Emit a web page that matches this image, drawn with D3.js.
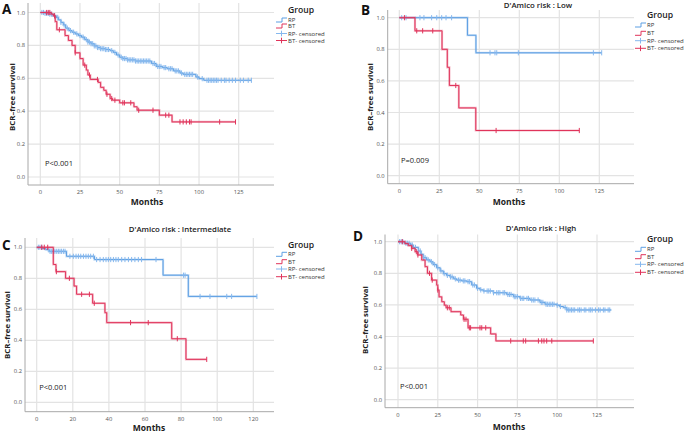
<!DOCTYPE html>
<html><head><meta charset="utf-8">
<script src="https://cdn.jsdelivr.net/npm/d3@7"></script>
<style>body{margin:0;background:#fff}svg{display:block}text{font-family:"Open Sans",sans-serif}</style>
</head><body><svg id="c" width="685" height="432"></svg>
<script>
// ---------------- DATA ----------------
const groups = ["RP", "BT"];
const legendLabels = ["RP", "BT", "RP- censored", "BT- censored"];
const yTicks = [0.0, 0.2, 0.4, 0.6, 0.8, 1.0];
const xTicksA = [0, 25, 50, 75, 100, 125];
const xTicksB = [0, 25, 50, 75, 100, 125];
const xTicksC = [0, 20, 40, 60, 80, 100, 120];
const xTicksD = [0, 25, 50, 75, 100, 125];
const titles = ["", "D'Amico risk : Low", "D'Amico risk : Intermediate", "D'Amico risk : High"];
const panelLetters = ["A", "B", "C", "D"];
const pValues = ["P<0.001", "P=0.009", "P<0.001", "P<0.001"];

// Step curves: [month, survival after step]; endpoints = last follow-up month
const stepsA_RP = [[0,1],[3,0.995],[6,0.99],[8,0.98],[10,0.97],[11.5,0.955],[13,0.94],[14.5,0.925],[16,0.905],[18,0.89],[20,0.88],[22,0.87],[24,0.86],[26,0.85],[28,0.835],[30,0.82],[32,0.81],[34,0.797],[36,0.787],[38,0.78],[41,0.775],[44,0.768],[46,0.757],[48,0.742],[50,0.728],[52,0.72],[55,0.712],[60,0.705],[70,0.69],[73,0.672],[77,0.665],[80,0.658],[84,0.645],[88,0.632],[90,0.624],[98,0.608],[100,0.598],[103,0.588]];
const endA_RP = 133;
const censA_RP = [1,2,3,4,5,6,7,9,11,13,15,17,19,21,23,25,27,29,30,31,32,33,34,35,36,37,38,39,40,41,42,43,45,47,49,51,52,53,54,55,56,57,58,59,60,61,62,63,64,65,66,67,68,69,71,72,74,75,76,78,79,81,82,83,85,86,87,89,91,92,93,94,95,96,99,102,105,106,107,108,109,110,111,112,114,116,117,119,121,123,126,128,131,133];
const stepsA_BT = [[0,1],[7,0.99],[8.3,0.98],[9.4,0.945],[10.4,0.895],[15.6,0.86],[17.7,0.83],[20,0.8],[22,0.755],[25,0.72],[27,0.68],[29,0.65],[30,0.62],[31.5,0.593],[36.5,0.575],[38,0.545],[40,0.527],[41.5,0.503],[44,0.477],[45.5,0.467],[50,0.451],[59,0.427],[61,0.406],[75,0.376],[83,0.335]];
const endA_BT = 123;
const censA_BT = [4,5,6,9,12,22,28,31,36,42,45,47,52,53,57,62,71,79,81,88,90,92,94,95,113,123];

const stepsB_RP = [[0,1],[42.6,0.889],[47.9,0.778]];
const endB_RP = 126.5;
const censB_RP = [1.5,4.2,12.9,15.4,20.2,23.4,26.5,29.2,32.7,56.7,59.8,60.9,74.4,121.3,126.5];
const stepsB_BT = [[0,1],[9.8,0.917],[26.7,0.8],[30,0.686],[31.3,0.571],[37.2,0.429],[47.8,0.286]];
const endB_BT = 112.5;
const censB_BT = [3.2,10.9,14.6,20.9,35.3,60.5,112.5];

const stepsC_RP = [[0,1],[3,0.992],[5,0.985],[7,0.974],[16.5,0.942],[32,0.921],[70,0.82],[84,0.683]];
const endC_RP = 122;
const censC_RP = [0.9,1.8,2.8,6.4,7.4,8.3,9.2,10.1,11.1,12,12.9,13.8,14.8,15.7,18.4,20.3,21.8,23.1,24.4,25.9,27.3,28.6,29.9,31.4,33.2,35.1,36.9,38.4,39.7,41,42.5,43.9,45.2,47.1,48.9,50.8,52.6,54.4,56.3,58.1,66.1,81.3,82.2,90.5,96,105.3,108,122];
const stepsC_BT = [[0,1],[9.2,0.889],[10.7,0.843],[16,0.8],[20.7,0.75],[22.1,0.697],[31,0.639],[37.8,0.578],[38.8,0.514],[74.8,0.41],[82.7,0.277]];
const endC_BT = 94.2;
const censC_BT = [2.8,4.2,6.1,10.9,18.1,24.9,29.2,31.9,52,61.8,77.9,94.2];

const stepsD_RP = [[0,1],[4,0.99],[8,0.979],[9.6,0.964],[12.8,0.941],[14.5,0.92],[15.9,0.899],[18,0.885],[20.1,0.873],[22,0.855],[24.3,0.835],[26.5,0.815],[28.5,0.798],[30.5,0.787],[32.7,0.777],[35,0.765],[36.9,0.757],[40,0.752],[43.2,0.747],[46.3,0.726],[49.4,0.705],[51.5,0.695],[53.6,0.688],[59.9,0.677],[68.3,0.666],[72.5,0.652],[76.6,0.641],[82.9,0.631],[89.2,0.616],[92.4,0.604],[99.7,0.598],[101.5,0.59],[103.9,0.583],[106,0.568]];
const endD_RP = 134;
const censD_RP = [1,2,3,5,6,7,9,11,13,14,16,17,19,21,23,25,27,29,31,33,34,36,38,39,41,42,44,45,47,48,50,52,54,56,57,58,60,62,63,64,66,67,69,70,71,73,74,75,77,78,79,81,82,84,85,86,88,90,91,93,94,95,96,97,98,100,102,105,106,107,108,109,110,111,113,114,115,117,118,120,121,122,124,126,127,129,130,132,133];
const stepsD_BT = [[0,1],[4.4,0.988],[6.5,0.975],[8.6,0.958],[10.7,0.937],[12.4,0.916],[14.9,0.884],[17,0.842],[18.5,0.8],[21.1,0.757],[24.3,0.725],[25,0.694],[25.8,0.651],[27.5,0.62],[29.1,0.598],[30.2,0.582],[33.3,0.557],[39.4,0.536],[41.1,0.509],[44,0.455],[58.2,0.416],[61.5,0.372]];
const endD_BT = 122.7;
const censD_BT = [2.7,8.6,11.5,12.5,19.8,21.5,25,31,32.2,41.5,42.7,44.8,45.6,51.5,52.6,55.1,70.8,78.7,80.2,88.2,90.3,91.7,93.4,96.6,122.7];

// ---------------- LAYOUT ----------------
const COL = {RP: "#5d9fe3", BT: "#e0345b", RPc: "#86b8ee", BTc: "#e0345b"};
const panels = [
  {i:0, left:28, right:274, top:3, bottom:185, x0:40.3, xRefV:125, xRefP:238.7, y1:12.5, y0:177, xt:xTicksA,
   curves:[[stepsA_RP,endA_RP,censA_RP,"RP"],[stepsA_BT,endA_BT,censA_BT,"BT"]],
   letter:[2,14], title:null, legX:276, legGroupY:9.3, legY:[20,26,33.5,40.5], months:[147,205], ylab:[12,97], p:[45,163.3]},
  {i:1, left:387.7, right:634, top:10, bottom:183.7, x0:399.3, xRefV:125, xRefP:599.3, y1:17.7, y0:175.7, xt:xTicksB,
   curves:[[stepsB_RP,endB_RP,censB_RP,"RP"],[stepsB_BT,endB_BT,censB_BT,"BT"]],
   letter:[361,15], title:[538,7.5], legX:635, legGroupY:15, legY:[25,33.3,40.7,48.3], months:[509,205], ylab:[370,97], p:[401,160.7]},
  {i:2, left:25, right:274, top:238, bottom:411.7, x0:36.7, xRefV:120, xRefP:253.3, y1:247.3, y0:402.3, xt:xTicksC,
   curves:[[stepsC_RP,endC_RP,censC_RP,"RP"],[stepsC_BT,endC_BT,censC_BT,"BT"]],
   letter:[2,250], title:[180,231.5], legX:276, legGroupY:244.3, legY:[254.3,261.7,269,276.7], months:[149,430.5], ylab:[7,325], p:[39.3,387.3]},
  {i:3, left:385, right:634, top:234.5, bottom:407.7, x0:398, xRefV:125, xRefP:597, y1:241.7, y0:399.7, xt:xTicksD,
   curves:[[stepsD_RP,endD_RP,censD_RP,"RP"],[stepsD_BT,endD_BT,censD_BT,"BT"]],
   letter:[353,241], title:[541,230.5], legX:635, legGroupY:239, legY:[249.3,256.7,264.3,272.3], months:[509,429.5], ylab:[365,320], p:[400,386.7]}
];

const svg = d3.select("#c");
svg.append("rect").attr("width",685).attr("height",432).attr("fill","#fff");

function survAt(steps, t){ let s = steps[0][1]; for(const [tt,v] of steps){ if(tt<=t) s=v; } return s; }

panels.forEach(P => {
  const g = svg.append("g");
  const x = d3.scaleLinear().domain([0, P.xRefV]).range([P.x0, P.xRefP]);
  const y = d3.scaleLinear().domain([0, 1]).range([P.y0, P.y1]);
  // grid
  g.selectAll(".hg").data(yTicks).join("line")
    .attr("x1",P.left).attr("x2",P.right).attr("y1",d=>y(d)).attr("y2",d=>y(d))
    .attr("stroke","#e3e3e3").attr("stroke-width",1.2);
  g.selectAll(".vg").data(P.xt).join("line")
    .attr("x1",d=>x(d)).attr("x2",d=>x(d)).attr("y1",P.top).attr("y2",P.bottom)
    .attr("stroke","#e3e3e3").attr("stroke-width",1.2);
  // axes lines
  g.append("line").attr("x1",P.left).attr("x2",P.left).attr("y1",P.top).attr("y2",P.bottom).attr("stroke","#a8a8a8").attr("stroke-width",1);
  g.append("line").attr("x1",P.left).attr("x2",P.right).attr("y1",P.bottom).attr("y2",P.bottom).attr("stroke","#a8a8a8").attr("stroke-width",1);
  // tick labels
  g.selectAll(".yl").data(yTicks).join("text")
    .attr("x",P.left-3).attr("y",d=>y(d)+2).attr("text-anchor","end")
    .attr("font-size",5.8).attr("fill","#555").text(d=>d3.format(".1f")(d));
  g.selectAll(".xl").data(P.xt).join("text")
    .attr("x",d=>x(d)).attr("y",P.bottom+9).attr("text-anchor","middle")
    .attr("font-size",5.8).attr("fill","#555").text(d=>d);
  // curves
  const line = d3.line().x(d=>x(d[0])).y(d=>y(d[1])).curve(d3.curveStepAfter);
  P.curves.forEach(([steps,end,cens,grp]) => {
    const pts = steps.concat([[end, steps[steps.length-1][1]]]);
    g.append("path").attr("d",line(pts)).attr("fill","none")
      .attr("stroke",COL[grp]).attr("stroke-width",2.2).attr("stroke-opacity",0.35);
    g.append("path").attr("d",line(pts)).attr("fill","none")
      .attr("stroke",COL[grp]).attr("stroke-width",1);
    const cg = g.append("g");
    cens.forEach(t => {
      const cx = x(t), cy = y(survAt(steps,t));
      cg.append("line").attr("x1",cx).attr("x2",cx).attr("y1",cy-2.6).attr("y2",cy+2.6)
        .attr("stroke",COL[grp+"c"]).attr("stroke-width",1);
    });
  });
  // panel letter
  g.append("text").attr("x",P.letter[0]).attr("y",P.letter[1]).attr("font-family","Liberation Serif, serif")
    .attr("font-weight","bold").attr("font-size",13.5).attr("fill","#111").text(panelLetters[P.i]);
  if(P.title) g.append("text").attr("x",P.title[0]).attr("y",P.title[1]).attr("text-anchor","middle")
    .attr("font-size",7.8).attr("font-weight",600).attr("fill","#222").text(titles[P.i]);
  // axis titles
  g.append("text").attr("x",P.months[0]).attr("y",P.months[1]).attr("text-anchor","middle")
    .attr("font-size",8.5).attr("font-weight","bold").attr("fill","#222").text("Months");
  g.append("text").attr("transform",`translate(${P.ylab[0]+3},${P.ylab[1]}) rotate(-90)`).attr("text-anchor","middle")
    .attr("font-size",7.8).attr("font-weight","bold").attr("fill","#222").text("BCR\u2013free survival");
  g.append("text").attr("x",P.p[0]).attr("y",P.p[1]+2.6).attr("font-size",7.5).attr("fill","#222").text(pValues[P.i]);
  // legend
  g.append("text").attr("x",P.legX+12).attr("y",P.legGroupY+3.2).attr("font-size",8.6).attr("font-weight",600)
    .attr("fill","#222").text("Group");
  legendLabels.forEach((lab,k) => {
    const ly = P.legY[k], lx = P.legX, grp = groups[k%2];
    if(k<2){
      g.append("path").attr("d",`M${lx},${ly+2}H${lx+6}V${ly-2}H${lx+11}`).attr("fill","none")
        .attr("stroke",COL[grp]).attr("stroke-width",1);
    } else {
      g.append("line").attr("x1",lx).attr("x2",lx+11).attr("y1",ly).attr("y2",ly).attr("stroke",COL[grp+"c"]).attr("stroke-width",1);
      g.append("line").attr("x1",lx+5.5).attr("x2",lx+5.5).attr("y1",ly-2.8).attr("y2",ly+2.8).attr("stroke",COL[grp+"c"]).attr("stroke-width",1);
    }
    g.append("text").attr("x",lx+12).attr("y",ly+2.1).attr("font-family","Roboto, sans-serif")
      .attr("font-size",6.0).attr("fill","#333").text(lab);
  });
});
</script></body></html>
